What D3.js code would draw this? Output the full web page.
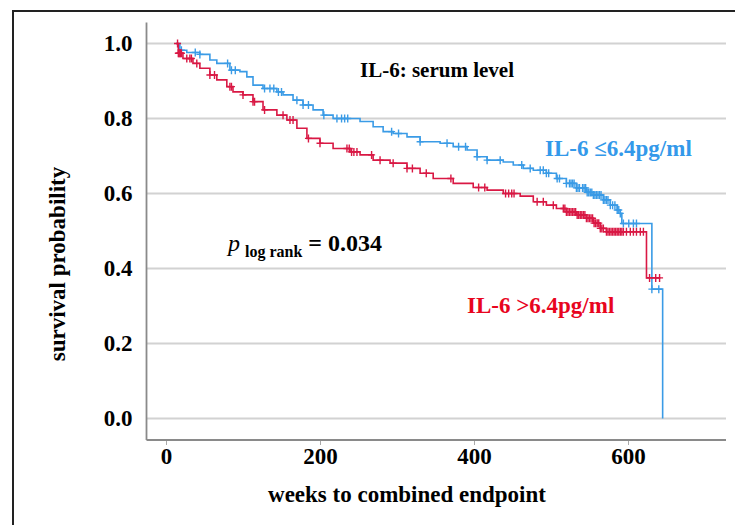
<!DOCTYPE html>
<html>
<head>
<meta charset="utf-8">
<script src="https://cdn.jsdelivr.net/npm/d3@7"></script>
<style>
  body { margin: 0; background: #fff; }
  svg text { font-family: "Liberation Serif", "Times New Roman", serif; font-weight: bold; }
</style>
</head>
<body>
<svg class="chart"></svg>
<script>
// DATA /////////////////////////////////////////
const xTicks = [0, 200, 400, 600];
const yTicks = [0.0, 0.2, 0.4, 0.6, 0.8, 1.0];

// IL-6 <= 6.4 pg/ml (blue): step times (weeks) and survival after each step
const lowTimes = [13, 18, 27, 44, 57, 66, 83, 96, 105, 113, 126, 144, 152, 165, 178, 191, 204, 217, 252, 269, 282, 295, 313, 330, 356, 373, 391, 404, 417, 438, 451, 464, 477, 494, 507, 520, 533, 546, 555, 568, 577, 586, 590, 592, 631, 645];
const lowSurv = [1.0, 0.982, 0.976, 0.971, 0.956, 0.947, 0.929, 0.925, 0.911, 0.889, 0.88, 0.871, 0.863, 0.849, 0.836, 0.823, 0.809, 0.8, 0.792, 0.778, 0.765, 0.76, 0.751, 0.738, 0.734, 0.725, 0.716, 0.698, 0.689, 0.684, 0.676, 0.667, 0.662, 0.654, 0.64, 0.627, 0.615, 0.603, 0.596, 0.583, 0.569, 0.556, 0.547, 0.52, 0.345, 0.0];
const lowCensored = [20, 38, 44, 80, 85, 90, 128, 135, 140, 146, 150, 170, 178, 185, 205, 222, 228, 232, 236, 293, 302, 330, 365, 380, 389, 404, 417, 434, 462, 473, 486, 490, 494, 497, 508, 511, 520, 524, 526, 528, 530, 533, 535, 537, 541, 543, 545, 547, 549, 551, 553, 555, 557, 559, 561, 563, 565, 568, 570, 572, 574, 577, 580, 583, 586, 588, 590, 594, 601, 607, 611, 631, 640];
const lowEnd = 645;

// IL-6 > 6.4 pg/ml (red)
const highTimes = [13, 16, 22, 35, 44, 57, 66, 79, 87, 100, 113, 126, 144, 157, 170, 183, 200, 217, 239, 252, 269, 291, 313, 330, 347, 373, 399, 417, 438, 460, 477, 494, 507, 520, 533, 546, 555, 564, 572, 624];
const highSurv = [1.0, 0.974, 0.96, 0.947, 0.934, 0.916, 0.903, 0.885, 0.871, 0.863, 0.845, 0.823, 0.809, 0.796, 0.774, 0.747, 0.734, 0.72, 0.711, 0.703, 0.689, 0.681, 0.667, 0.654, 0.64, 0.627, 0.616, 0.609, 0.6, 0.593, 0.578, 0.569, 0.56, 0.551, 0.543, 0.534, 0.521, 0.507, 0.498, 0.375];
const highCensored = [15, 16, 17, 18, 19, 20, 27, 31, 33, 40, 57, 63, 83, 85, 100, 113, 115, 128, 152, 161, 165, 185, 200, 235, 238, 241, 244, 248, 267, 278, 295, 313, 320, 338, 370, 406, 414, 441, 445, 449, 452, 482, 490, 503, 516, 518, 520, 522, 524, 526, 528, 530, 532, 534, 536, 538, 540, 542, 544, 546, 548, 550, 552, 554, 556, 558, 560, 562, 564, 566, 568, 572, 574, 576, 578, 580, 582, 584, 586, 588, 590, 592, 594, 598, 603, 607, 611, 616, 620, 628, 636, 641];
const highEnd = 642;

const groups = [
  { name: "IL-6 \u22646.4pg/ml", times: lowTimes, surv: lowSurv, cens: lowCensored, end: lowEnd, line: "#3a9be6", text: "#3399ea", lx: 545, ly: 156 },
  { name: "IL-6 >6.4pg/ml", times: highTimes, surv: highSurv, cens: highCensored, end: highEnd, line: "#d91844", text: "#e8051e", lx: 467, ly: 313 }
];

// SETUP ////////////////////////////////////////
const W = 735, H = 525;
const svg = d3.select(".chart").attr("width", W).attr("height", H);

const x = d3.scaleLinear().domain([0, 600]).range([166, 628]);
const y = d3.scaleLinear().domain([0, 1]).range([418.5, 43.5]);
const plotLeft = 146.5, plotRight = 726, axisY = 440, axisTop = 22.5;

// frame
svg.append("rect")
  .attr("x", 13).attr("y", 11)
  .attr("width", W).attr("height", H)
  .attr("fill", "none").attr("stroke", "#222").attr("stroke-width", 2);

// gridlines
svg.append("g")
  .selectAll("line")
  .data(yTicks)
  .join("line")
  .attr("x1", plotLeft).attr("x2", plotRight)
  .attr("y1", (d) => y(d)).attr("y2", (d) => y(d))
  .attr("stroke", "#d2d2d2").attr("stroke-width", 2);

// axes
const xAxis = svg.append("g")
  .attr("transform", `translate(0, ${axisY})`)
  .call(d3.axisBottom(x).tickValues(xTicks).tickSize(5).tickPadding(3).tickFormat(d3.format("d")));
xAxis.select(".domain").remove();
xAxis.selectAll(".tick line").attr("stroke", "#aaa");
xAxis.selectAll(".tick text")
  .attr("font-size", 23).attr("fill", "#000")
  .attr("font-family", "Liberation Serif, serif");

svg.append("line")
  .attr("x1", plotLeft).attr("x2", plotRight)
  .attr("y1", axisY).attr("y2", axisY)
  .attr("stroke", "#8a8a8a").attr("stroke-width", 1.8);
svg.append("line")
  .attr("x1", plotLeft).attr("x2", plotLeft)
  .attr("y1", axisTop).attr("y2", axisY)
  .attr("stroke", "#8a8a8a").attr("stroke-width", 1.8);

const yAxis = svg.append("g")
  .attr("transform", `translate(${plotLeft}, 0)`)
  .call(d3.axisLeft(y).tickValues(yTicks).tickSize(0).tickPadding(14).tickFormat(d3.format(".1f")));
yAxis.select(".domain").remove();
yAxis.selectAll(".tick text")
  .attr("font-size", 23).attr("fill", "#000")
  .attr("font-family", "Liberation Serif, serif");

// axis titles
svg.append("text")
  .attr("transform", "translate(65, 264) rotate(-90)")
  .attr("text-anchor", "middle")
  .attr("font-size", 23)
  .text("survival probability");

svg.append("text")
  .attr("x", 407).attr("y", 502)
  .attr("text-anchor", "middle")
  .attr("font-size", 23)
  .text("weeks to combined endpoint");

// CURVES ///////////////////////////////////////
const stepLine = d3.line()
  .x((d) => x(d[0]))
  .y((d) => y(d[1]))
  .curve(d3.curveStepAfter);

const survAt = (g, t) => g.surv[Math.max(0, d3.bisectRight(g.times, t) - 1)];

groups.forEach((g) => {
  const pts = g.times.map((t, i) => [t, g.surv[i]]);
  if (g.end > g.times[g.times.length - 1]) pts.push([g.end, g.surv[g.surv.length - 1]]);

  svg.append("path")
    .attr("d", stepLine(pts))
    .attr("fill", "none")
    .attr("stroke", g.line)
    .attr("stroke-width", 1.6);

  svg.append("g")
    .selectAll("path")
    .data(g.cens)
    .join("path")
    .attr("transform", (t) => `translate(${x(t)}, ${y(survAt(g, t))})`)
    .attr("d", "M-3.5,0H3.5M0,-4V4")
    .attr("stroke", g.line)
    .attr("stroke-width", 1.4);

  svg.append("text")
    .attr("x", g.lx).attr("y", g.ly)
    .attr("font-size", 23)
    .attr("fill", g.text)
    .text(g.name);
});

// ANNOTATIONS //////////////////////////////////
svg.append("text")
  .attr("x", 437).attr("y", 77)
  .attr("text-anchor", "middle")
  .attr("font-size", 21)
  .text("IL-6: serum level");

const pText = svg.append("text").attr("x", 228).attr("y", 251).attr("font-size", 24);
pText.append("tspan").attr("font-style", "italic").attr("font-weight", "normal").text("p");
pText.append("tspan").attr("dx", 5).attr("dy", 6).attr("font-size", 16).text("log rank");
pText.append("tspan").attr("dx", 6).attr("dy", -6).text("= 0.034");
</script>
</body>
</html>
